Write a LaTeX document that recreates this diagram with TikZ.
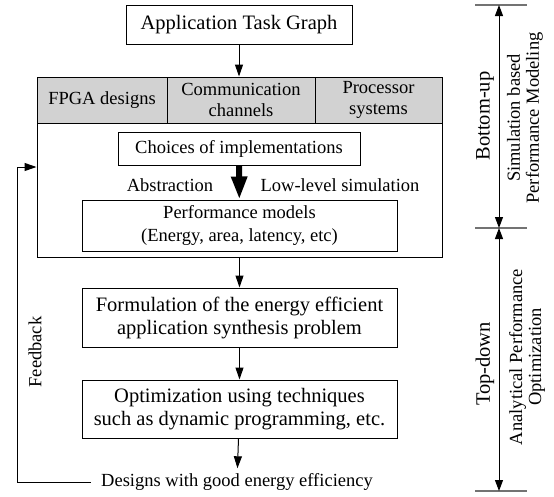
\documentclass[tikz,border=0pt]{standalone}
\usepackage{fontspec}
\setmainfont{Liberation Serif}
\usetikzlibrary{arrows.meta, positioning}

\tikzset{
  bigfont/.style={font=\fontsize{20.5}{23}\selectfont},
  smallfont/.style={font=\fontsize{18.5}{22}\selectfont},
  block/.style={draw, line width=1pt, inner sep=0pt, align=center},
  cell/.style={block, fill=gray!35, smallfont, minimum height=46pt},
  flow/.style={-{Triangle[length=12pt, width=8pt]}, line width=1pt},
  boldflow/.style={-{Triangle[length=23pt, width=15pt]}, line width=6pt},
  span/.style={{Triangle[length=11pt, width=8pt]}-{Triangle[length=11pt, width=8pt]}, line width=1pt},
  spanend/.style={draw=black!55, line width=1.3pt},
}

\begin{document}
\begin{tikzpicture}[x=1pt, y=-1pt]
  \useasboundingbox (0,0) rectangle (554,496);

  % main flow
  \node[block, bigfont, minimum width=226pt, minimum height=39pt] (atg) at (239,24.5) {Application Task Graph};
  \node[block, minimum width=405pt, minimum height=180pt] (sys) at (239.5,167) {};
  \node[cell, minimum width=130pt] (fpga) at (102,100) {FPGA designs};
  \node[cell, minimum width=148pt] (comm) at (241,100) {Communication\\[-1pt]channels};
  \node[cell, minimum width=127pt] (proc) at (378.5,100) {Processor\\[-1pt]systems};
  \node[block, smallfont, minimum width=242pt, minimum height=33pt] (choices) at (239,148.5) {Choices of implementations};
  \node[block, smallfont, minimum width=315pt, minimum height=51pt] (perf) at (239.5,225.5) {Performance models\\[1pt](Energy, area, latency, etc)};
  \node[smallfont] (abstr) at (170,185) {Abstraction};
  \node[smallfont] (lowsim) at (340,185) {Low-level simulation};
  \node[block, bigfont, minimum width=315pt, minimum height=59pt] (form) at (239.5,317.5) {Formulation of the energy efficient\\application synthesis problem};
  \node[block, bigfont, minimum width=315pt, minimum height=58pt] (opt) at (239.5,409) {Optimization using techniques\\such as dynamic programming, etc.};
  \node[smallfont, inner xsep=10pt, inner ysep=5pt] (designs) at (237,482) {Designs with good energy efficiency};

  \draw[flow] (atg) -- (atg.south |- sys.north);
  \draw[boldflow] (choices) -- (perf);
  \draw[flow] (sys.south) -- (form.north);
  \draw[flow] (form) -- (opt);
  \draw[flow] (opt) -- (designs);

  % feedback loop
  \coordinate (fbbot) at (17,482);
  \coordinate (fbtop) at (17,167);
  \draw[flow] (designs.west) -- (fbbot) -- (fbtop) -- (fbtop -| sys.west);
  \node[smallfont, rotate=90] (fblabel) at (35,352) {Feedback};

  % bottom-up / top-down scale
  \foreach \y/\n in {5/top, 228/mid, 491/bot} {
    \coordinate (\n) at (499,\y);
    \draw[spanend] (475,\y) -- (527,\y);
  }
  \draw[span] (top) -- (mid);
  \draw[span] (mid) -- (bot);
  \node[bigfont, rotate=90] (bottomup) at (485,116) {Bottom-up};
  \node[smallfont, rotate=90, align=center] (simlabel) at (525,118) {Simulation based\\[-3pt]Performance Modeling};
  \node[bigfont, rotate=90] (topdown) at (485,364) {Top-down};
  \node[smallfont, rotate=90, align=center] (analabel) at (527,357) {Analytical Performance\\[-3pt]Optimization};
\end{tikzpicture}
\end{document}
